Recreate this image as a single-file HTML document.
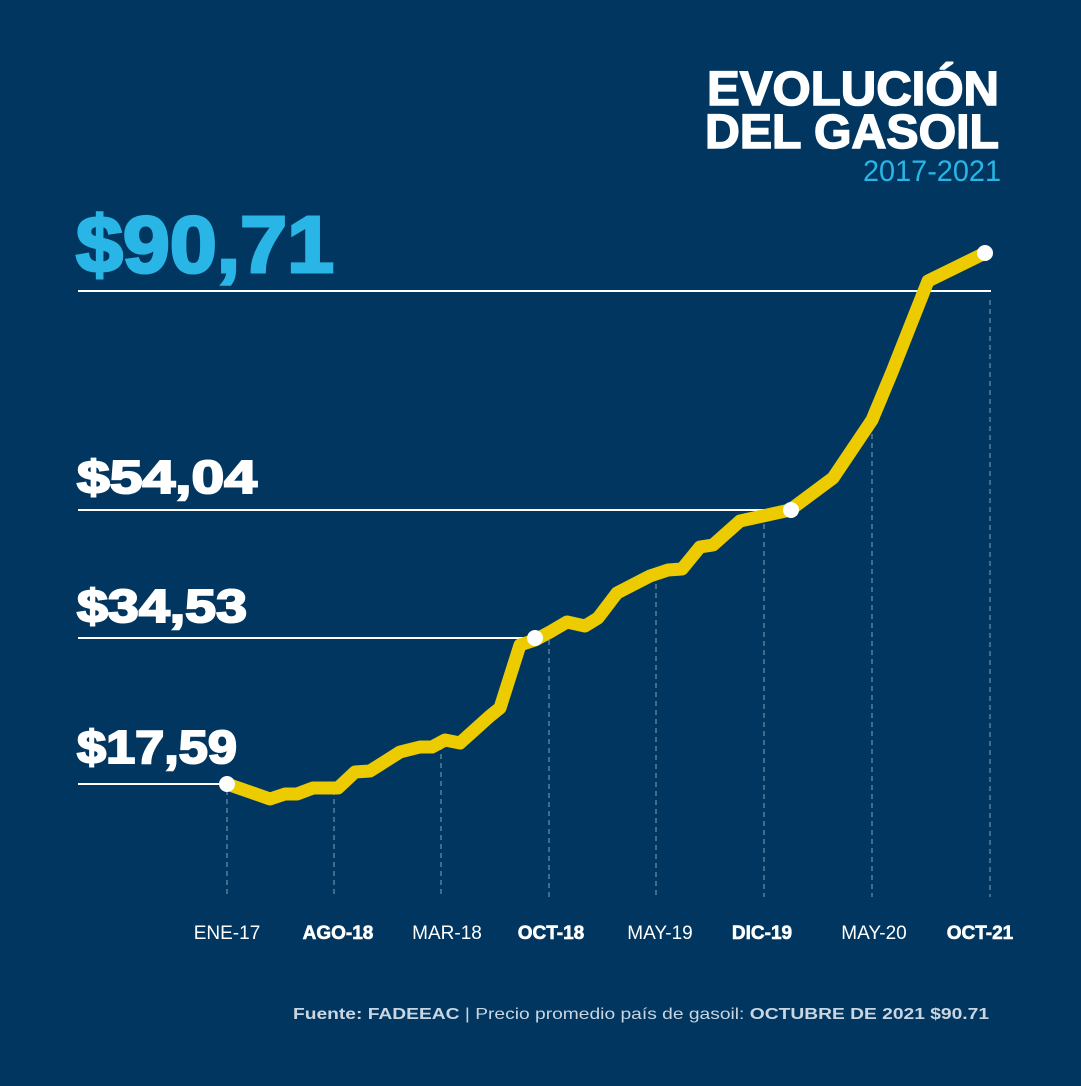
<!DOCTYPE html>
<html><head><meta charset="utf-8"><style>
body{margin:0;width:1081px;height:1081px;background:#00365f;overflow:hidden;font-family:"Liberation Sans",sans-serif}
</style></head><body>
<svg width="1081" height="1081" viewBox="0 0 1081 1081" xmlns="http://www.w3.org/2000/svg">
<rect width="1081" height="1081" fill="#00365f"/>
<g font-family="Liberation Sans, sans-serif" font-weight="bold" fill="#fff" stroke="#fff" stroke-width="1.5" text-anchor="end">
<text x="999" y="105" font-size="48" textLength="292" lengthAdjust="spacingAndGlyphs">EVOLUCIÓN</text>
<text x="999" y="148" font-size="48" textLength="294" lengthAdjust="spacingAndGlyphs">DEL GASOIL</text>
</g>
<text x="1001" y="181" font-family="Liberation Sans, sans-serif" font-size="30" fill="#29b6e6" text-anchor="end" textLength="138" lengthAdjust="spacingAndGlyphs">2017-2021</text>
<text x="76" y="272" font-family="Liberation Sans, sans-serif" font-weight="bold" font-size="80" fill="#29b6e6" stroke="#29b6e6" stroke-width="3" textLength="258" lengthAdjust="spacingAndGlyphs">$90,71</text>
<g font-family="Liberation Sans, sans-serif" font-weight="bold" font-size="46" fill="#fff" stroke="#fff" stroke-width="2">
<text x="77" y="493" textLength="180" lengthAdjust="spacingAndGlyphs">$54,04</text>
<text x="77" y="622" textLength="170" lengthAdjust="spacingAndGlyphs">$34,53</text>
<text x="77" y="763" textLength="160" lengthAdjust="spacingAndGlyphs">$17,59</text>
</g>
<g stroke="#fff" stroke-width="2">
<line x1="78" y1="291" x2="991" y2="291"/>
<line x1="78" y1="510" x2="790" y2="510"/>
<line x1="78" y1="638" x2="535" y2="638"/>
<line x1="78" y1="784" x2="227" y2="784"/>
</g>
<g stroke="#6f8fae" stroke-width="1.2" stroke-dasharray="5,4">
<line x1="227" y1="790" x2="227" y2="897"/>
<line x1="334" y1="790" x2="334" y2="897"/>
<line x1="441" y1="745" x2="441" y2="897"/>
<line x1="549" y1="640" x2="549" y2="897"/>
<line x1="656" y1="575" x2="656" y2="897"/>
<line x1="764" y1="515" x2="764" y2="897"/>
<line x1="872" y1="425" x2="872" y2="897"/>
<line x1="990" y1="300" x2="990" y2="897"/>
</g>
<polyline fill="none" stroke="#eccb00" stroke-width="13" stroke-linejoin="round" stroke-linecap="round" points="227,784 270,799 285,794 297,794 313,788 338,788 355,772 370,771 400,752 420,747 432,747 445,740 460,743 490,716 500,708 520,645 535,640 550,632 567,622 585,626 598,618 617,593 650,576 668,570 682,569 700,547 713,545 740,521 790,510 833,478 872,420 892,372 928,281 985,253"/>
<g fill="#fff">
<circle cx="227" cy="784" r="8"/>
<circle cx="535" cy="638" r="8"/>
<circle cx="791" cy="510" r="8"/>
<circle cx="985" cy="253" r="8"/>
</g>
<g font-family="Liberation Sans, sans-serif" font-size="19" fill="#fff" text-anchor="middle">
<text x="227" y="939">ENE-17</text>
<text x="338" y="939" font-weight="bold" stroke="#fff" stroke-width="0.6">AGO-18</text>
<text x="447" y="939">MAR-18</text>
<text x="551" y="939" font-weight="bold" stroke="#fff" stroke-width="0.6">OCT-18</text>
<text x="660" y="939">MAY-19</text>
<text x="762" y="939" font-weight="bold" stroke="#fff" stroke-width="0.6">DIC-19</text>
<text x="874" y="939">MAY-20</text>
<text x="980" y="939" font-weight="bold" stroke="#fff" stroke-width="0.6">OCT-21</text>
</g>
<text x="293" y="1019" font-family="Liberation Sans, sans-serif" font-size="16" fill="#c9d6e2" textLength="696" lengthAdjust="spacingAndGlyphs"><tspan font-weight="bold">Fuente: FADEEAC</tspan> | Precio promedio país de gasoil: <tspan font-weight="bold">OCTUBRE DE 2021 $90.71</tspan></text>
</svg>
</body></html>
